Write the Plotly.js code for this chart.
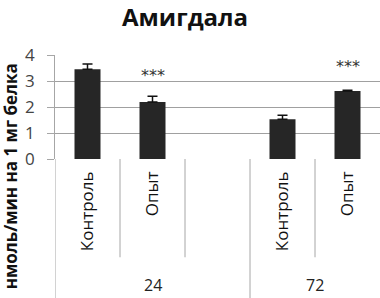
<!DOCTYPE html>
<html><head><meta charset="utf-8">
<script src="https://cdn.plot.ly/plotly-3.0.1.min.js"></script>
<style>html,body{margin:0;padding:0;background:#fff}#c{width:380px;height:298px}</style>
</head><body><div id="c"></div>
<script>
var groups = ["24", "72"];
var conditions = ["Контроль", "Опыт"];
var values = [3.45, 2.19, 1.53, 2.62];
var errors = [0.2, 0.22, 0.15, 0.02];
var marks = ["", "***", "", "***"];
var markLevels = [null, 3.2, null, 3.55];
var yTicks = [0, 1, 2, 3, 4];
var yTitle = "нмоль/мин на 1 мг белка";
var chartTitle = "Амигдала";

var slotsPerGroup = conditions.length + 1;
var xs = [], tickv = [], tickt = [];
groups.forEach(function (g, gi) {
  conditions.forEach(function (c, ci) {
    xs.push(gi * slotsPerGroup + ci);
    tickv.push(gi * slotsPerGroup + ci);
    tickt.push(c);
  });
});
var nSlots = groups.length * slotsPerGroup - 1;

var annotations = [];
xs.forEach(function (x, i) {
  if (marks[i]) annotations.push({x: x, y: markLevels[i], xref: 'x', yref: 'y', text: marks[i], showarrow: false,
    yanchor: 'middle', font: {family: 'DejaVu Sans', size: 16, color: '#333'}});
});
groups.forEach(function (g, gi) {
  var start = gi * slotsPerGroup - 0.5;
  var end = Math.min(start + slotsPerGroup, nSlots - 0.5);
  annotations.push({x: (start + end) / 2, y: -1.215, xref: 'x', yref: 'paper', yanchor: 'middle', text: g, showarrow: false,
    font: {family: 'Open Sans', size: 16, color: '#222'}});
});
annotations.push({x: -0.138, y: -0.165, xref: 'paper', yref: 'paper', xanchor: 'center', yanchor: 'middle',
  textangle: -90, text: '<b>' + yTitle + '</b>', showarrow: false, borderpad: 0,
  font: {family: 'Open Sans', size: 17, color: '#111'}});

var shapes = [];
for (var s = 0; s < nSlots; s++) {
  var b = s - 0.5;
  var isGroup = (s % slotsPerGroup === 0);
  shapes.push({type: 'line', xref: 'x', yref: 'paper', x0: b, x1: b, y0: 0, y1: isGroup ? -1.4 : -0.945,
    line: {color: '#a6a6a6', width: 1}});
}

Plotly.newPlot('c', [{
  type: 'bar', x: xs, y: values, width: 0.4,
  marker: {color: '#262626'},
  error_y: {type: 'data', array: errors, arrayminus: errors.map(function(){return 0;}), color: '#111', thickness: 1.5, width: 5},
  hoverinfo: 'none'
}], {
  width: 380, height: 298,
  margin: {l: 55, r: 0, t: 55, b: 139},
  paper_bgcolor: '#fff', plot_bgcolor: '#fff',
  showlegend: false,
  title: {text: '<b>' + chartTitle + '</b>', x: 0.487, xanchor: 'center', y: 0.94, yanchor: 'middle',
    font: {family: 'Open Sans', size: 24, color: '#111'}},
  xaxis: {range: [-0.5, nSlots - 0.5], tickmode: 'array', tickvals: tickv, ticktext: tickt, tickangle: -90,
    showgrid: false, zeroline: false, showline: false, ticks: '', ticklabelstandoff: 8,
    tickfont: {family: 'Open Sans', size: 17, color: '#111'}},
  yaxis: {range: [0, 4], tickmode: 'array', tickvals: yTicks, ticktext: yTicks.map(function (v) { return v + '\u00a0\u00a0'; }),
    showgrid: true, gridcolor: '#a0a0a0', gridwidth: 1,
    zeroline: false, showline: true, linecolor: '#a6a6a6', ticks: 'outside', ticklen: 7, tickcolor: '#a6a6a6',
    tickfont: {family: 'Open Sans', size: 17, color: '#444'}},
  shapes: shapes,
  annotations: annotations
}, {staticPlot: true});
</script></body></html>
